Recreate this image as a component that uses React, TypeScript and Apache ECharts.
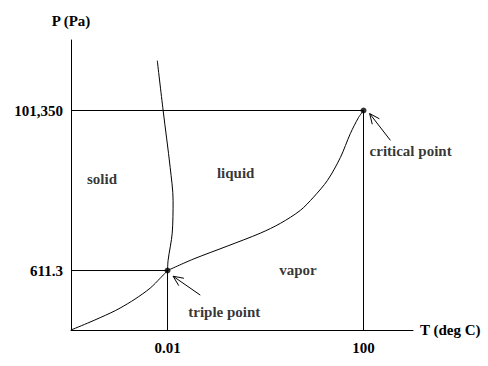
import React, { useEffect, useRef } from "react";
import * as echarts from "echarts";

// Schematic units: critical point at (100, 100)
const xTicks = [33, 100];
const xTickLabels = ["0.01", "100"];
const yTicks = [27.1, 100];
const yTickLabels = ["611.3", "101,350"];

const sublimation: number[][] = [
  [0, 0], [6.5, 3.6], [13.4, 7.7], [16.8, 10], [21.9, 14.1], [27.1, 19.1], [30.5, 23.6], [33, 27.1],
];
const fusion: number[][] = [
  [33, 27.1], [33.2, 31.8], [34.6, 44.1], [34.9, 59.1], [33.9, 74.1], [31.5, 100], [29.5, 122.7],
];
const vaporization: number[][] = [
  [33, 27.1], [41.8, 32.3], [53.4, 38.2], [64.7, 44.1], [71.6, 48.6], [78.4, 54.5], [82.9, 60.5],
  [87.7, 68.2], [92.1, 78.6], [95.5, 89.5], [98.3, 96.8], [100, 100],
];
const specialPoints: number[][] = [[33, 27.1], [100, 100]];
const guideLines: number[][][] = [
  [[0, 100], [100, 100]],
  [[100, 100], [100, 0]],
  [[0, 27.1], [33, 27.1]],
  [[33, 27.1], [33, 0]],
];
const regionLabels = [
  { name: "solid", value: [10.6, 68.6] },
  { name: "liquid", value: [56.3, 71.4] },
  { name: "vapor", value: [77.6, 27.3] },
  { name: "triple point", value: [52.4, 8.2] },
  { name: "critical point", value: [116.1, 81.4] },
];
// tail x, tail y, head x, head y
const arrows: number[][] = [
  [44.2, 15.9, 34.9, 24.5],
  [109.2, 86.4, 102.1, 98.6],
];

const FONT = "Times New Roman, Liberation Serif, DejaVu Serif, serif";

export default function App() {
  const ref = useRef<HTMLDivElement>(null);
  useEffect(() => {
    if (!ref.current) return;
    const chart = echarts.init(ref.current, null, { renderer: "svg" });
    const lineStyle = { color: "#000", width: 1 };
    const series: any[] = [];
    guideLines.forEach((seg) => {
      series.push({
        type: "line", data: seg, symbol: "none", lineStyle, silent: true,
      });
    });
    [sublimation, fusion, vaporization].forEach((d) => {
      series.push({
        type: "line", data: d, symbol: "none", smooth: 0.3, lineStyle, silent: true,
      });
    });
    series.push({
      type: "scatter", data: specialPoints, symbolSize: 6,
      itemStyle: { color: "#000" }, z: 5,
    });
    series.push({
      type: "scatter", data: regionLabels, symbolSize: 0,
      label: {
        show: true, position: "inside", formatter: "{b}",
        color: "#000", fontFamily: FONT, fontWeight: "bold", fontSize: 15,
      },
    });
    series.push({
      type: "custom",
      data: arrows,
      encode: { x: [0, 2], y: [1, 3] },
      renderItem: (params: any, api: any) => {
        const t = api.coord([api.value(0), api.value(1)]);
        const h = api.coord([api.value(2), api.value(3)]);
        const ang = Math.atan2(t[1] - h[1], t[0] - h[0]);
        const L = 11, a = 0.42;
        const p1 = [h[0] + L * Math.cos(ang + a), h[1] + L * Math.sin(ang + a)];
        const p2 = [h[0] + L * Math.cos(ang - a), h[1] + L * Math.sin(ang - a)];
        return {
          type: "group",
          children: [
            { type: "line", shape: { x1: t[0], y1: t[1], x2: h[0], y2: h[1] }, style: { stroke: "#000", lineWidth: 1 } },
            { type: "polyline", shape: { points: [p1, h, p2] }, style: { stroke: "#000", lineWidth: 1, fill: null } },
          ],
        };
      },
    });

    chart.setOption({
      animation: false,
      backgroundColor: "#fff",
      textStyle: { fontFamily: FONT },
      grid: { left: 71, top: 40, right: 75, bottom: 36, containLabel: false },
      xAxis: {
        type: "value", min: 0, max: 116.92,
        name: "T (deg C)", nameLocation: "end", nameGap: 7,
        nameTextStyle: { color: "#000", fontFamily: FONT, fontWeight: "bold", fontSize: 15, verticalAlign: "middle" },
        axisLine: { lineStyle: { color: "#000", width: 1 } },
        axisTick: { show: false },
        splitLine: { show: false },
        axisLabel: {
          customValues: xTicks,
          formatter: (v: number) => {
            const i = xTicks.findIndex((t) => Math.abs(t - v) < 1e-6);
            return i >= 0 ? xTickLabels[i] : "";
          },
          color: "#000", fontFamily: FONT, fontWeight: "bold", fontSize: 15, margin: 10,
        },
      },
      yAxis: {
        type: "value", min: 0, max: 132.12,
        name: "P (Pa)", nameLocation: "end", nameGap: 12,
        nameTextStyle: { color: "#000", fontFamily: FONT, fontWeight: "bold", fontSize: 15, align: "center" },
        axisLine: { show: true, lineStyle: { color: "#000", width: 1 } },
        axisTick: { show: false },
        splitLine: { show: false },
        axisLabel: {
          customValues: yTicks,
          formatter: (v: number) => {
            const i = yTicks.findIndex((t) => Math.abs(t - v) < 1e-6);
            return i >= 0 ? yTickLabels[i] : "";
          },
          color: "#000", fontFamily: FONT, fontWeight: "bold", fontSize: 15, margin: 8,
        },
      },
      series,
    });
    return () => chart.dispose();
  }, []);
  return <div ref={ref} style={{ width: 488, height: 366, position: "absolute", left: 0, top: 0 }} />;
}
